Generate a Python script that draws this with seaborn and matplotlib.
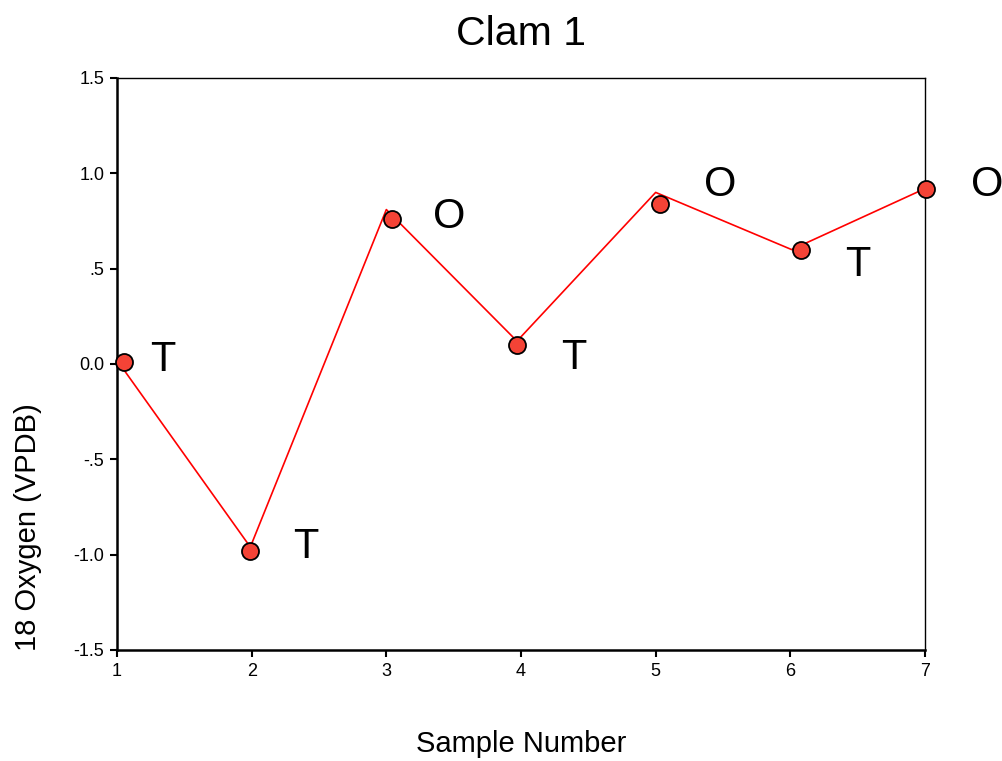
import matplotlib
matplotlib.use("Agg")
import matplotlib.pyplot as plt
import seaborn as sns
import pandas as pd

# Line vertices
line_x = [1.0, 1.99, 3.0, 3.97, 5.0, 6.01, 7.0]
line_y = [0.02, -0.96, 0.81, 0.12, 0.90, 0.60, 0.92]
# Marker positions
pt_x = [1.05, 1.99, 3.04, 3.97, 5.03, 6.08, 7.01]
pt_y = [0.01, -0.98, 0.76, 0.10, 0.84, 0.60, 0.92]
# Annotation labels
lab_text = ["T", "T", "O", "T", "O", "T", "O"]
lab_x = [1.34, 2.40, 3.47, 4.39, 5.48, 6.50, 7.46]
lab_y = [0.02, -0.96, 0.77, 0.03, 0.94, 0.52, 0.94]

x_ticks = [1, 2, 3, 4, 5, 6, 7]
y_ticks = [-1.5, -1.0, -0.5, 0.0, 0.5, 1.0, 1.5]
y_ticklabels = ["-1.5", "-1.0", "-.5", "0.0", ".5", "1.0", "1.5"]

sns.set_style("ticks")
plt.rcParams['font.family'] = ['Liberation Sans', 'DejaVu Sans']
plt.rcParams['text.color'] = 'black'
plt.rcParams['axes.labelcolor'] = 'black'

fig = plt.figure(figsize=(10.03, 7.61), dpi=100)
ax = fig.add_axes([117/1003, 111/761, (925-117)/1003, (650-78)/761])

line_df = pd.DataFrame({"x": line_x, "y": line_y})
pt_df = pd.DataFrame({"x": pt_x, "y": pt_y})

sns.lineplot(data=line_df, x="x", y="y", ax=ax, color="#ff0000", linewidth=1.2,
             sort=False, estimator=None, zorder=2)
sns.scatterplot(data=pt_df, x="x", y="y", ax=ax, color="#f44336", s=150,
                edgecolor="black", linewidth=1.3, zorder=3, clip_on=False)

for t, x, y in zip(lab_text, lab_x, lab_y):
    ax.text(x, y, t, fontsize=30, ha="center", va="center", color="black",
            clip_on=False)

ax.set_xlim(1, 7)
ax.set_ylim(-1.5, 1.5)
ax.set_xticks(x_ticks)
ax.set_xticklabels([str(v) for v in x_ticks])
ax.set_yticks(y_ticks)
ax.set_yticklabels(y_ticklabels)
ax.tick_params(axis="both", direction="out", length=5, width=1.5,
               labelsize=13, colors="black", pad=4)

for side in ["left", "bottom"]:
    ax.spines[side].set_visible(True)
    ax.spines[side].set_linewidth(1.8)
    ax.spines[side].set_color("black")
for side in ["top", "right"]:
    ax.spines[side].set_visible(True)
    ax.spines[side].set_linewidth(1.0)
    ax.spines[side].set_color("black")

ax.set_xlabel("Sample Number", fontsize=21, labelpad=36, color="black")
ax.set_ylabel("18 Oxygen (VPDB)", fontsize=21, color="black")
ax.yaxis.set_label_coords(-0.093, 0.214)
ax.set_title("Clam 1", fontsize=29.5, pad=24, color="black")

fig.savefig("out.png", dpi=100)
